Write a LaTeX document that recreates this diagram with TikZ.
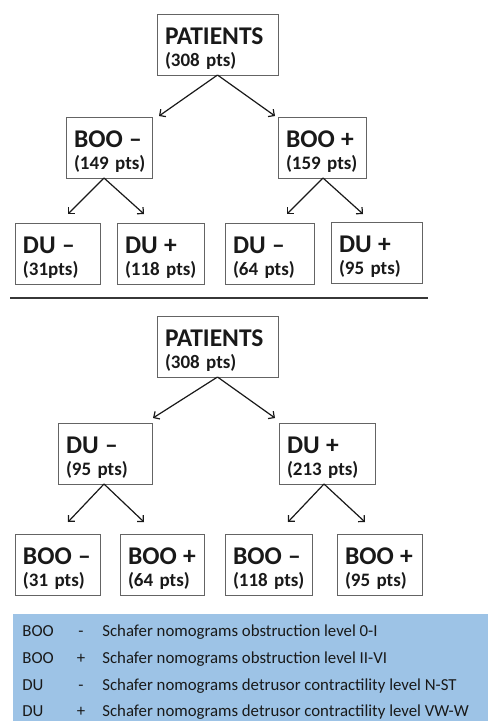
\documentclass[tikz,border=0pt]{standalone}
\usepackage{fontspec}
\setmainfont{Carlito}
\usetikzlibrary{arrows.meta,calc}

\definecolor{boxgray}{RGB}{100,100,100}
\definecolor{rulegray}{RGB}{55,55,55}
\definecolor{legblue}{RGB}{157,195,230}
\definecolor{inkblack}{RGB}{25,25,25}

\newcommand{\hd}[1]{{\fontsize{25.5}{22}\selectfont\rule{0pt}{25pt}#1}}

\tikzset{every picture/.style={line width=0.75pt}}
\tikzset{
  box/.style={draw=boxgray, line width=0.9pt, anchor=north west, outer sep=0pt,
    inner xsep=8pt, inner ysep=0pt, minimum height=61pt, align=left,
    text=inkblack, font=\bfseries\fontsize{19}{22}\selectfont},
  arr/.style={-{Straight Barb[length=4.5pt,width=9pt]}, line width=1.2pt, color=inkblack},
  legtext/.style={anchor=base west, inner sep=0pt, text=inkblack,
    font=\fontsize{16.8}{20}\selectfont},
  legsign/.style={legtext, anchor=base}
}

\begin{document}
\begin{tikzpicture}[x=1pt,y=1pt,yscale=-1,xscale=1]
  \useasboundingbox (0,0) rectangle (488,721);

  %Upper tree: BOO first
  \node[box, text width=105pt] (pat1) at (157,14) {\hd{PATIENTS}\\(308~pts)};
  \node[box, text width=70pt] (booN1) at (66,117) {\hd{BOO~–}\\(149~pts)};
  \node[box, text width=72pt] (booP1) at (278,117) {\hd{BOO~+}\\(159~pts)};
  \node[box, text width=69pt] (duN1) at (15,223) {\hd{DU~–}\\(31pts)};
  \node[box, text width=71pt] (duP1) at (117,223) {\hd{DU~+}\\(118~pts)};
  \node[box, text width=73pt] (duN2) at (225,223) {\hd{DU~–}\\(64~pts)};
  \node[box, text width=75pt] (duP2) at (331,222) {\hd{DU~+}\\(95~pts)};

  %Arrows of the upper tree
  \draw[arr] (pat1.south) -- ($(booN1.north east)+(7,-1)$);
  \draw[arr] (pat1.south) -- ($(booP1.north west)+(-3,-1)$);
  \draw[arr] ($(booN1.south)+(-5,0)$) -- ($(duN1.north)+(10.5,-9)$);
  \draw[arr] ($(booN1.south)+(-5,0)$) -- ($(duP1.north)+(-16.5,-9)$);
  \draw[arr] ($(booP1.south)+(1,0)$) -- ($(duN2.north)+(17.5,-9)$);
  \draw[arr] ($(booP1.south)+(1,0)$) -- ($(duP2.north)+(-13.5,-8)$);

  %Separating rule
  \draw[rulegray, line width=2.4pt] (10,298) -- (428,298);

  %Lower tree: DU first
  \node[box, text width=105pt] (pat2) at (157,316) {\hd{PATIENTS}\\(308~pts)};
  \node[box, text width=78pt] (duN3) at (58,423) {\hd{DU~–}\\(95~pts)};
  \node[box, text width=80pt] (duP3) at (279,423) {\hd{DU~+}\\(213~pts)};
  \node[box, text width=69pt] (booN2) at (15,534) {\hd{BOO~–}\\(31~pts)};
  \node[box, text width=68pt] (booP2) at (120,534) {\hd{BOO~+}\\(64~pts)};
  \node[box, text width=71pt] (booN3) at (225,534) {\hd{BOO~–}\\(118~pts)};
  \node[box, text width=69pt] (booP3) at (337,534) {\hd{BOO~+}\\(95~pts)};

  %Arrows of the lower tree
  \draw[arr] (pat2.south) -- ($(duN3.north east)+(1,-5)$);
  \draw[arr] (pat2.south) -- ($(duP3.north west)+(-4,-5)$);
  \draw[arr] ($(duN3.south)+(-1,0)$) -- ($(booN2.north)+(10.5,-12)$);
  \draw[arr] ($(duN3.south)+(-1,0)$) -- ($(booP2.north)+(-18,-12)$);
  \draw[arr] ($(duP3.south)+(-3,0)$) -- ($(booN3.north)+(19.5,-12)$);
  \draw[arr] ($(duP3.south)+(-3,0)$) -- ($(booP3.north)+(-14.5,-12)$);

  %Legend
  \fill[legblue] (13,614) rectangle (488,721);
  \node[legtext] (leg1a) at (22,636) {BOO};
  \node[legsign] (leg1b) at (81,636) {-};
  \node[legtext] (leg1c) at (102,636) {Schafer nomograms obstruction level 0-I};
  \node[legtext] (leg2a) at (22,663) {BOO};
  \node[legsign] (leg2b) at (81,663) {+};
  \node[legtext] (leg2c) at (102,663) {Schafer nomograms obstruction level II-VI};
  \node[legtext] (leg3a) at (22,690) {DU};
  \node[legsign] (leg3b) at (81,690) {-};
  \node[legtext] (leg3c) at (102,690) {Schafer nomograms detrusor contractility level N-ST};
  \node[legtext] (leg4a) at (22,716.5) {DU};
  \node[legsign] (leg4b) at (81,716.5) {+};
  \node[legtext] (leg4c) at (102,716.5) {Schafer nomograms detrusor contractility level VW-W};
\end{tikzpicture}
\end{document}
